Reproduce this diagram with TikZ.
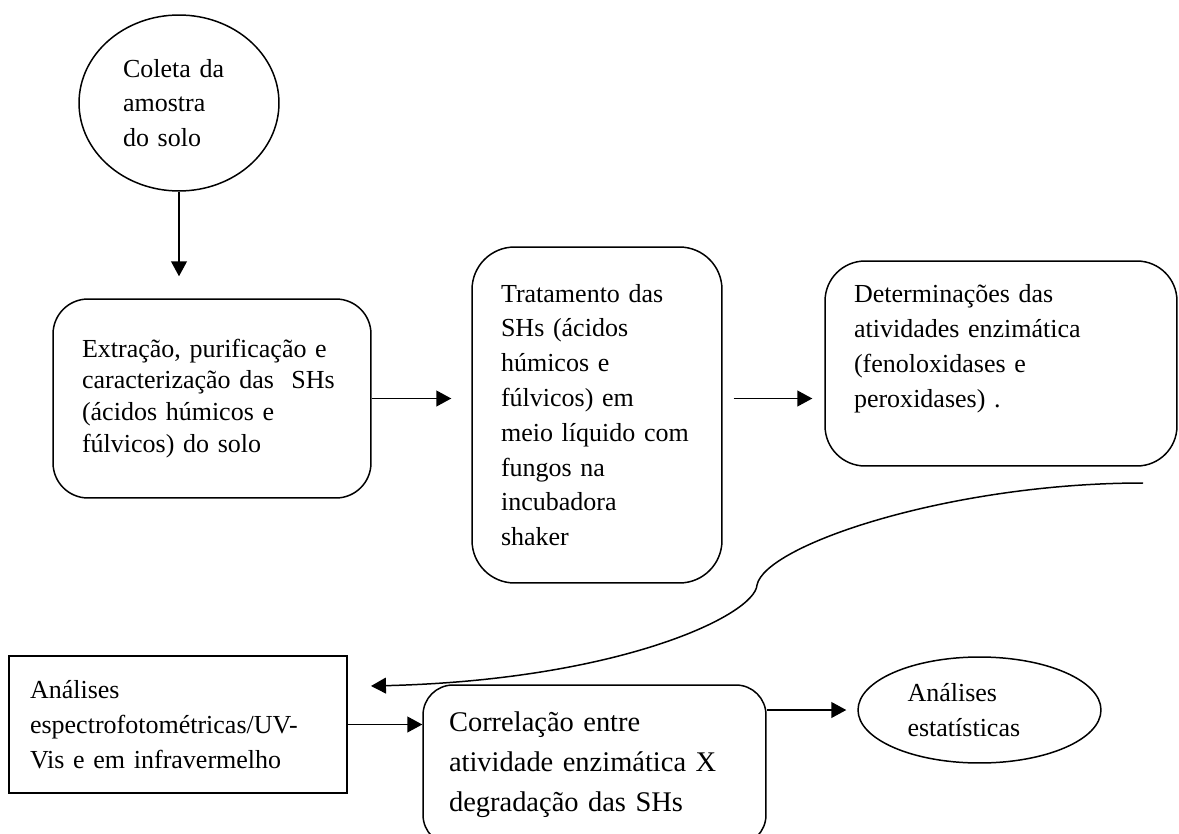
\documentclass[tikz,border=0pt]{standalone}
\usepackage{fontspec}
\setmainfont{Liberation Serif}
\usepackage{tikz}
\usetikzlibrary{shapes.geometric,arrows.meta}
\tikzset{
  procbox/.style={ draw, rounded corners=0.7cm, align=left, inner xsep=0.58cm, inner ysep=0pt, font=\fontsize{14.8}{19.8}\selectfont }
}
\tikzset{
  plainbox/.style={ draw, align=left, inner xsep=0.42cm, inner ysep=0pt, font=\fontsize{14.8}{19.8}\selectfont }
}
\tikzset{
  ovalnode/.style={ draw, ellipse, align=left, inner sep=0pt, font=\fontsize{14.8}{19.8}\selectfont }
}
\tikzset{
  flow/.style={ -{Triangle[length=8.5pt, width=9pt]} }
}

\begin{document}
\begin{tikzpicture}[x=0.02cm, y=-0.02cm, line width=0.85pt]
      \useasboundingbox (0, 0) rectangle (1179, 834);
      \clip (0, 0) rectangle (1179, 834);

      \node[ovalnode, text width=2.24cm, minimum width=4cm, minimum height=3.52cm] (coleta) at (179, 103) {Coleta da\\amostra\\do solo};
      \node[procbox, text width=5.2cm, minimum height=3.98cm, font=\fontsize{14.8}{18.1}\selectfont] (extr) at (212, 398.5) {Extração, purificação e\\caracterização das \ SHs\\(ácidos húmicos e\\fúlvicos) do solo};
      \node[procbox, rounded corners=0.85cm, text width=3.84cm, minimum height=6.72cm] (trat) at (597, 415) {Tratamento das\\SHs (ácidos\\húmicos e\\fúlvicos) em\\meio líquido com\\fungos na\\incubadora\\shaker};
      \node[procbox, rounded corners=0.8cm, text width=5.88cm, minimum height=4.1cm] (det) at (1001, 363.5) {Determinações das\\atividades enzimática\\(fenoloxidases e\\peroxidases) .\\\mbox{}};

      \node[plainbox, text width=5.92cm, minimum height=2.74cm] (anal) at (178, 724.5) {Análises\\espectrofotométricas/UV-\\Vis e em infravermelho};
      \node[procbox, rounded corners=0.6cm, inner xsep=0.52cm, text width=5.82cm, minimum height=3.2cm, font=\fontsize{16.2}{22.7}\selectfont] (corr) at (594.5, 765) {Correlação entre\\atividade enzimática X\\degradação das SHs};
      \node[ovalnode, text width=2.88cm, minimum width=4.86cm, minimum height=2.12cm] (estat) at (979.5, 710) {Análises\\estatísticas};

      \coordinate (curvefrom) at (1143, 483);
      \coordinate (curveto) at (371, 686);

      \begin{scope}[flow]
        \draw[shorten >=0.44cm] (coleta.south) -- (coleta.south |- extr.north);
        \draw[shorten >=0.4cm] (extr.east) -- (extr.east -| trat.west);
        \draw[shorten <=0.22cm, shorten >=0.24cm] (trat.east |- extr.east) -- (det.west |- extr.east);
        \draw (curvefrom) .. controls (950, 483) and (765, 545) .. (757, 585) .. controls (755, 615) and (620, 680) .. (curveto);
        \draw (anal.east) -- (anal.east -| corr.west);
        \draw[shorten >=0.22cm] (corr.east |- estat.west) -- (estat.west);
      \end{scope}
    \end{tikzpicture}
\end{document}
